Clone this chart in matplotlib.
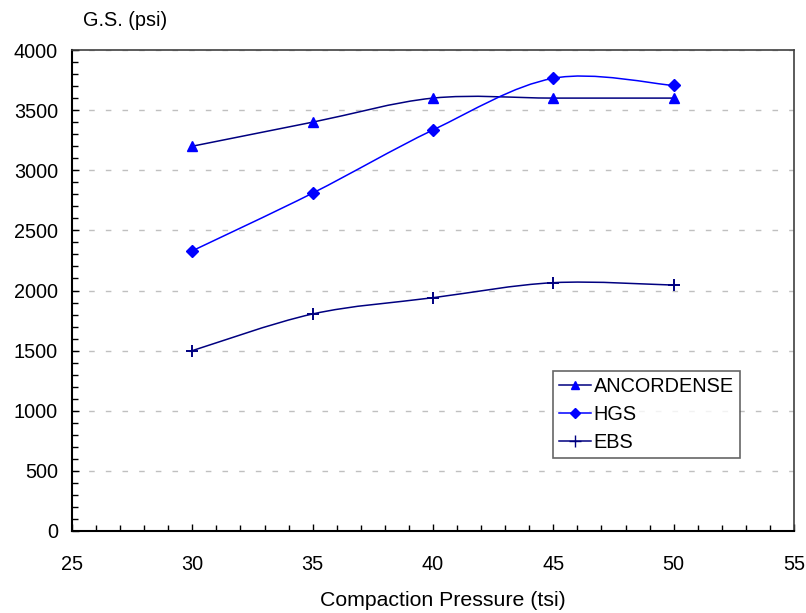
import numpy as np
import matplotlib.pyplot as plt
from matplotlib.path import Path
from matplotlib.patches import PathPatch
from matplotlib.lines import Line2D
from matplotlib.ticker import MultipleLocator

plt.rcParams['font.family'] = ['Liberation Sans', 'DejaVu Sans']

pressure = [30, 35, 40, 45, 50]
ancordense = [3200, 3400, 3600, 3600, 3600]
hgs = [2330, 2810, 3335, 3765, 3705]
ebs = [1500, 1805, 1940, 2065, 2045]

series = [
    ('ANCORDENSE', ancordense, '#000080', '#0000FF', '^', 7),
    ('HGS', hgs, '#0000FF', '#0000FF', 'D', 6.5),
    ('EBS', ebs, '#000080', '#000080', '+', 9),
]
fs = 14.3


def smooth_path(x, y):
    # excel-like smoothed line: catmull-rom as cubic bezier segments
    pts = np.column_stack([x, y]).astype(float)
    n = len(pts)
    verts = [pts[0]]
    codes = [Path.MOVETO]
    for i in range(n - 1):
        p0 = pts[i - 1] if i > 0 else pts[i]
        p1 = pts[i]
        p2 = pts[i + 1]
        p3 = pts[i + 2] if i + 2 < n else pts[i + 1]
        c1 = p1 + (p2 - p0) / 6.0
        c2 = p2 - (p3 - p1) / 6.0
        verts += [c1, c2, p2]
        codes += [Path.CURVE4] * 3
    return Path(verts, codes)


fig = plt.figure(figsize=(8.06, 6.13), dpi=100)
ax = fig.add_axes([72 / 806, 82 / 613, 722 / 806, 481 / 613])

for name, vals, lc, mc, mk, ms in series:
    patch = PathPatch(smooth_path(pressure, vals), facecolor='none',
                      edgecolor=lc, lw=1.1, zorder=3)
    ax.add_patch(patch)
    ax.plot(pressure, vals, linestyle='none', marker=mk, color=mc,
            markersize=ms, markeredgewidth=1.4 if mk == '+' else 1, zorder=4)

ax.set_xlim(25, 55)
ax.set_ylim(0, 4000)
ax.xaxis.set_major_locator(MultipleLocator(5))
ax.xaxis.set_minor_locator(MultipleLocator(1))
ax.yaxis.set_major_locator(MultipleLocator(500))
ax.yaxis.set_minor_locator(MultipleLocator(100))
ax.tick_params(which='both', direction='in', labelsize=fs, width=1)
ax.tick_params(which='major', length=5)
ax.tick_params(which='minor', length=4)
ax.tick_params(axis='x', pad=17)
ax.tick_params(axis='y', pad=10)
ax.yaxis.grid(True, color='#c0c0c0', linestyle=(0, (4, 8)), lw=1)
ax.set_axisbelow(True)

for side in ['top', 'right']:
    ax.spines[side].set_color('#404040')
    ax.spines[side].set_linewidth(1.2)
for side in ['left', 'bottom']:
    ax.spines[side].set_color('black')
    ax.spines[side].set_linewidth(1.5)

fig.text(443 / 806, 1 - 601 / 613, 'Compaction Pressure (tsi)', fontsize=15.3,
         va='center', ha='center')
fig.text(83 / 806, 1 - 20 / 613, 'G.S. (psi)', fontsize=fs, va='center', ha='left')

handles = [Line2D([], [], color=lc, marker=mk, markerfacecolor=mc, markeredgecolor=mc,
                  markersize=ms - 1, lw=1.1) for _, _, lc, mc, mk, ms in series]
leg = ax.legend(handles, [s[0] for s in series], loc='upper left',
                bbox_to_anchor=(481 / 722, (531 - 371) / 481), fontsize=fs,
                frameon=True, fancybox=False, borderpad=0.3, labelspacing=0.45,
                handlelength=1.6, handletextpad=0.15, borderaxespad=0)
leg.get_frame().set_edgecolor('#404040')
leg.get_frame().set_linewidth(1.2)

fig.savefig('out.png', dpi=100)
